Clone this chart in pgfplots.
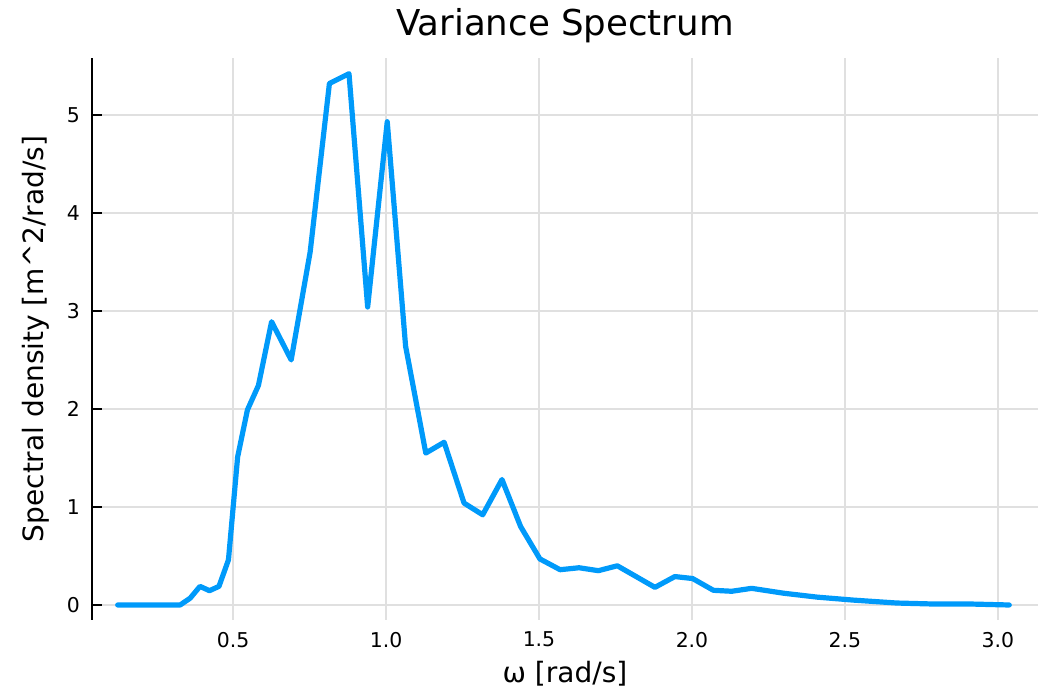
\documentclass[border=0pt]{standalone}
\usepackage{fontspec}
\setmainfont{DejaVu Sans}
\usepackage{pgfplots}
\pgfplotsset{compat=1.18}
\definecolor{plotblue}{RGB}{0,154,250}
\begin{document}
\begin{tikzpicture}
% page = 1046x691 px at 0.5pt per px
\path[use as bounding box] (-46pt,-35.5pt) rectangle (477pt,310pt);
\begin{axis}[
    at={(0pt,0pt)}, anchor=south west,
    scale only axis, width=473pt, height=281pt,
    xmin=0.039, xmax=3.131, ymin=-0.153, ymax=5.58,
    axis lines=left,
    x axis line style={draw=none},
    y axis line style={-, line width=1.2pt},
    xtick={0.5,1.0,1.5,2.0,2.5,3.0},
    ytick={0,1,2,3,4,5},
    xtick style={draw=none},
    ytick style={black, line width=1pt},
    major tick length=5pt,
    tick align=inside,
    grid=major,
    major grid style={black!12, line width=0.8pt},
    /pgf/number format/assume math mode=true,
    xticklabel style={font=\fontsize{10.2}{12}\selectfont, yshift=-2.5pt,
        /pgf/number format/.cd, fixed, fixed zerofill, precision=1},
    yticklabel style={font=\fontsize{10.2}{12}\selectfont, xshift=-2.6pt},
    title={Variance Spectrum},
    title style={font=\fontsize{17.8}{20}\selectfont, at={(axis description cs:0.5,1)},
        anchor=south, inner sep=0pt, yshift=1.5pt},
    xlabel={ω [rad/s]},
    xlabel style={font=\fontsize{14}{16}\selectfont, at={(axis description cs:0.5,0)},
        anchor=north, inner sep=0pt, yshift=-20.5pt},
    ylabel={Spectral density [m\textasciicircum 2/rad/s]},
    ylabel style={font=\fontsize{14}{16}\selectfont, at={(axis description cs:-0.0592,0.5)},
        anchor=center, inner sep=0pt},
]
\addplot[plotblue, line width=2.6pt, line join=round, line cap=round] coordinates {
(0.123,0) (0.327,0) (0.360,0.07) (0.392,0.19) (0.423,0.146) (0.454,0.19)
(0.485,0.46) (0.515,1.51) (0.547,1.99) (0.583,2.24) (0.626,2.89) (0.690,2.50)
(0.752,3.60) (0.815,5.32) (0.879,5.42) (0.940,3.04) (1.004,4.93) (1.064,2.64)
(1.130,1.55) (1.190,1.66) (1.255,1.04) (1.316,0.92) (1.379,1.28) (1.440,0.80)
(1.503,0.47) (1.569,0.36) (1.631,0.38) (1.694,0.35) (1.756,0.40) (1.879,0.18)
(1.944,0.29) (2.002,0.27) (2.070,0.15) (2.130,0.14) (2.195,0.17) (2.300,0.12)
(2.410,0.08) (2.527,0.05) (2.670,0.02) (2.790,0.01) (2.910,0.01) (3.037,0.0)
};
\end{axis}
\end{tikzpicture}
\end{document}
